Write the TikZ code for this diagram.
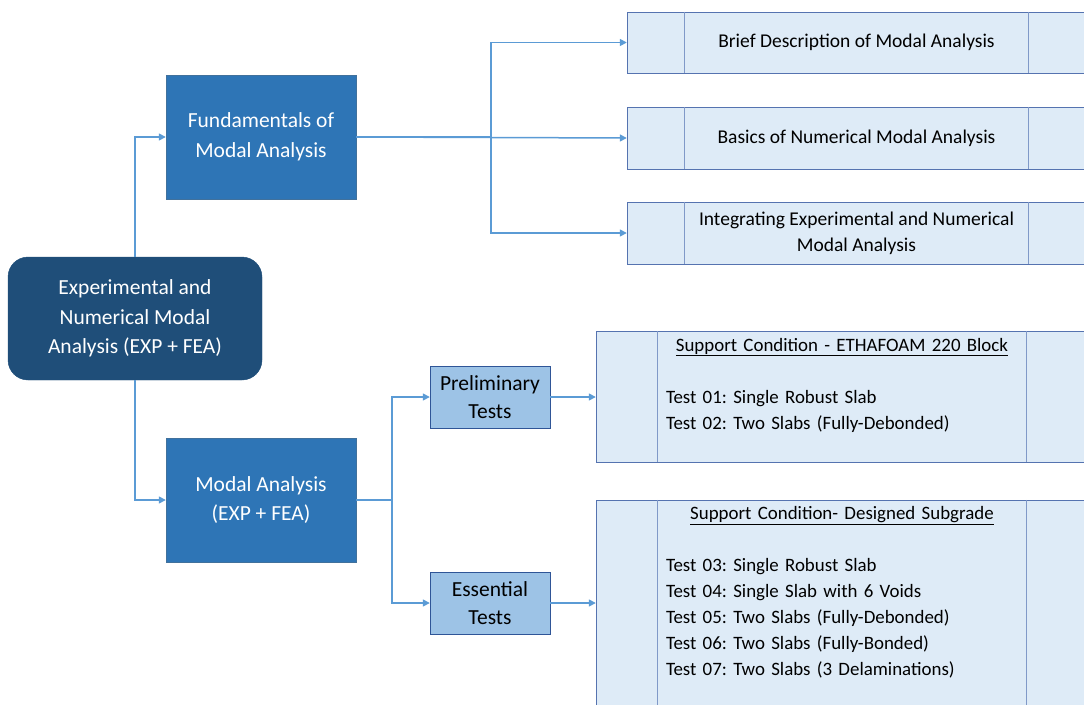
\documentclass[tikz,border=0pt]{standalone}
\usepackage{fontspec}
\setmainfont{Carlito}
\usetikzlibrary{positioning,arrows.meta}

\definecolor{rootblue}{HTML}{1F4E79}
\definecolor{midblue}{HTML}{2E75B6}
\definecolor{midline}{HTML}{41719C}
\definecolor{paleblue}{HTML}{9DC3E6}
\definecolor{paleline}{HTML}{2F5597}
\definecolor{listfill}{HTML}{DEEBF7}
\definecolor{listline}{HTML}{5573B0}
\definecolor{splitline}{HTML}{8099C8}
\definecolor{linkblue}{HTML}{5B9BD5}

\tikzset{
  rootbox/.style={fill=rootblue, draw=rootblue, rounded corners=20pt, text=white,
    minimum width=254pt, minimum height=123pt, align=center,
    font=\fontsize{21.5}{29.5}\selectfont},
  topicbox/.style={fill=midblue, draw=midline, text=white, minimum width=190pt,
    minimum height=124pt, align=center, font=\fontsize{21.5}{29.5}\selectfont},
  testbox/.style={fill=paleblue, draw=paleline, minimum width=120pt,
    minimum height=62pt, align=center, font=\fontsize{21.5}{28}\selectfont},
  listbox/.style={fill=listfill, draw=listline, align=center,
    font=\fontsize{19.5}{26}\selectfont\frenchspacing},
  testlist/.style={listbox, minimum width=492pt, text width=352pt, align=left,
    font=\fontsize{18.9}{26}\selectfont\frenchspacing},
  link/.style={draw=linkblue, line width=1.5pt, -{Triangle[length=7pt,width=7pt]}},
}

\begin{document}
\begin{tikzpicture}[x=1pt, y=-1pt]
  \useasboundingbox (0,0) rectangle (1084,704);
  \clip (0,0) rectangle (1084,704);

  % left column
  \node[rootbox] (root) at (135,318.5) {Experimental and\\Numerical Modal\\Analysis (EXP + FEA)};
  \node[topicbox] (fund) at (261,137) {Fundamentals of\\Modal Analysis};
  \node[topicbox] (modal) at (261,500) {Modal Analysis\\(EXP + FEA)};

  % test groups
  \node[testbox] (prelim) at (490,397) {Preliminary\\Tests};
  \node[testbox] (essen) at (490,603) {Essential\\Tests};

  % fundamentals topics
  \node[listbox, minimum width=459pt, minimum height=61pt] (desc1) at (856.5,42.5) {Brief Description of Modal Analysis};
  \node[listbox, minimum width=459pt, minimum height=62pt] (desc2) at (856.5,138) {Basics of Numerical Modal Analysis};
  \node[listbox, minimum width=459pt, minimum height=62pt] (desc3) at (856.5,233) {Integrating Experimental and Numerical\\Modal Analysis};
  \foreach \d in {desc1,desc2,desc3} {
    \draw[splitline, line width=1pt] ([xshift=58pt]\d.north west) -- ([xshift=58pt]\d.south west);
    \draw[splitline, line width=1pt] ([xshift=-58pt]\d.north east) -- ([xshift=-58pt]\d.south east);
  }

  % test lists
  \node[testlist, minimum height=131pt] (list1) at (842,396.5)
    {\makebox[\linewidth][c]{\underline{Support Condition - ETHAFOAM 220 Block}}\\[26pt]
     Test 01: Single Robust Slab\\
     Test 02: Two Slabs (Fully-Debonded)\\
     \mbox{}};
  \node[testlist, minimum height=208pt] (list2) at (842,604)
    {\makebox[\linewidth][c]{\underline{Support Condition- Designed Subgrade}}\\[26pt]
     Test 03: Single Robust Slab\\
     Test 04: Single Slab with 6 Voids\\
     Test 05: Two Slabs (Fully-Debonded)\\
     Test 06: Two Slabs (Fully-Bonded)\\
     Test 07: Two Slabs (3 Delaminations)\\
     \mbox{}};
  \foreach \d in {list1,list2} {
    \draw[splitline, line width=1pt] ([xshift=62pt]\d.north west) -- ([xshift=62pt]\d.south west);
    \draw[splitline, line width=1pt] ([xshift=-62pt]\d.north east) -- ([xshift=-62pt]\d.south east);
  }

  % connectors
  \coordinate (fork1) at (491,137);
  \coordinate (fork2) at (392,500);
  \draw[link] (root.north) |- (fund.west);
  \draw[link] (root.south) |- (modal.west);
  \draw[link] (fund.east) -- (fork1) |- (desc1.west);
  \draw[link] (fund.east) -- (desc2.west);
  \draw[link] (fork1) |- (desc3.west);
  \draw[link] (modal.east) -- (fork2) |- (prelim.west);
  \draw[link] (fork2) |- (essen.west);
  \draw[link] (prelim.east) -- (list1.west |- prelim.east);
  \draw[link] (essen.east) -- (list2.west |- essen.east);
\end{tikzpicture}
\end{document}
